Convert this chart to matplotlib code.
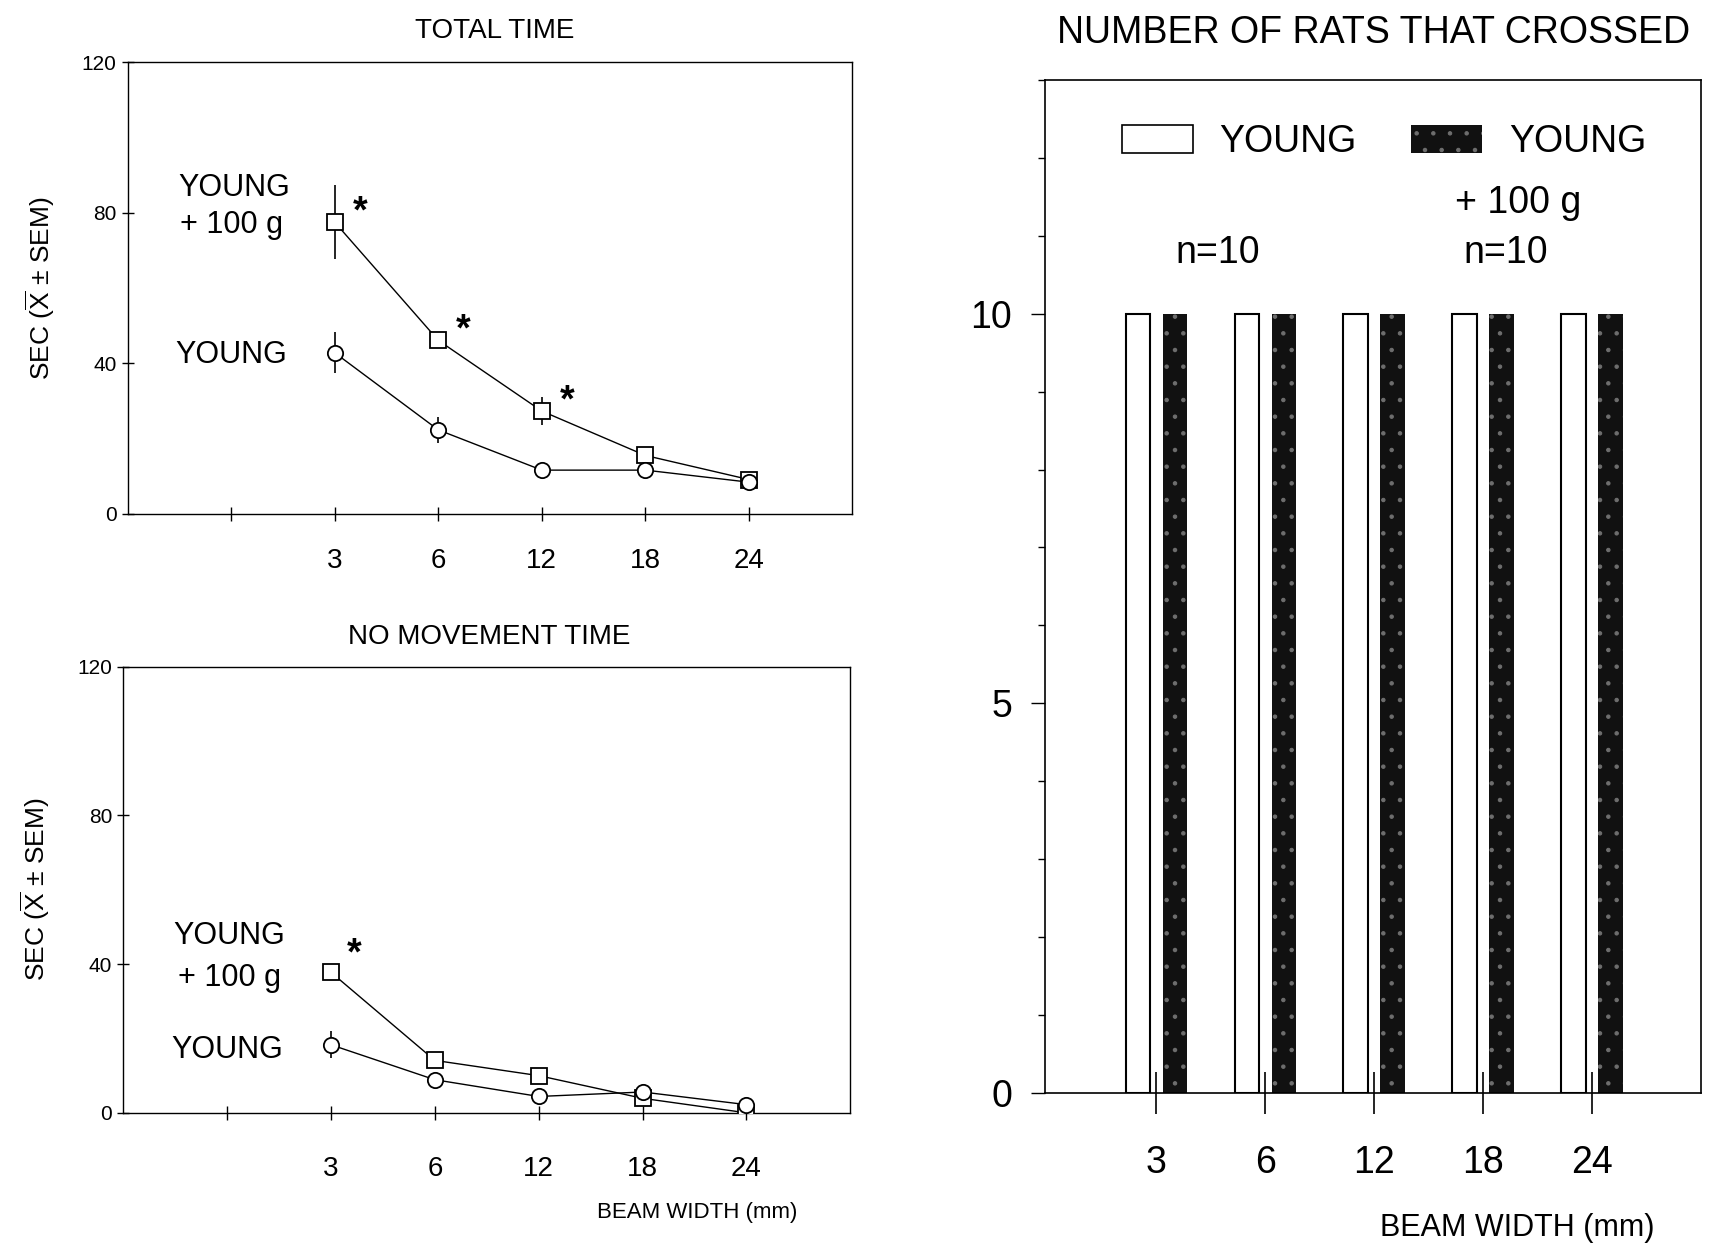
import matplotlib.pyplot as plt
from matplotlib.patches import Patch
import numpy as np

plt.rcParams['font.family'] = ['Liberation Sans', 'DejaVu Sans']
plt.rcParams['mathtext.fontset'] = 'custom'
plt.rcParams['mathtext.rm'] = 'Liberation Sans'
plt.rcParams['hatch.linewidth'] = 0.8

# beam widths (mm)
widths = ['3', '6', '12', '18', '24']

# total time, sec (mean and SEM)
total_young = [42.8, 22.3, 11.6, 11.6, 8.4]
total_young_sem = [5.5, 3.5, 1.0, 1.5, 1.5]
total_heavy = [77.5, 46.1, 27.3, 15.5, 9.1]
total_heavy_sem = [9.8, 1.0, 3.8, 2.0, 1.5]
total_sig = [True, True, True, False, False]

# no movement time, sec
still_young = [18.3, 8.9, 4.4, 5.6, 2.2]
still_young_sem = [3.6, 1.5, 1.0, 1.5, 1.0]
still_heavy = [37.8, 14.1, 10.0, 3.9, 0.0]
still_heavy_sem = [2.0, 2.0, 1.5, 2.0, 1.0]
still_sig = [True, False, False, False, False]

# number of rats that crossed
crossed_young = [10, 10, 10, 10, 10]
crossed_heavy = [10, 10, 10, 10, 10]

fig = plt.figure(figsize=(17.11, 12.47), dpi=100)
ax1 = fig.add_axes([0.0746, 0.588, 0.4236, 0.362])
ax2 = fig.add_axes([0.072, 0.1076, 0.425, 0.3578])
ax3 = fig.add_axes([0.611, 0.1234, 0.383, 0.8126])


def line_panel(ax, young, ysem, heavy, hsem, sig, star_off, xpad):
    pos = np.arange(2, 7)
    ax.errorbar(pos, heavy, yerr=hsem, fmt='none', ecolor='black',
                elinewidth=1.2, capsize=0, zorder=1)
    ax.errorbar(pos, young, yerr=ysem, fmt='none', ecolor='black',
                elinewidth=1.2, capsize=0, zorder=1)
    ax.plot(pos, heavy, color='black', lw=1, marker='s', ms=11,
            mfc='white', mec='black', mew=1.3, zorder=3)
    ax.plot(pos, young, color='black', lw=1, marker='o', ms=11,
            mfc='white', mec='black', mew=1.3, zorder=3)
    for p, v, s in zip(pos, heavy, sig):
        if s:
            ax.annotate('*', (p, v), xytext=star_off, textcoords='offset points',
                        fontsize=27, fontweight='bold', ha='center', va='center')
    ax.set_xlim(0, 7)
    ax.set_ylim(0, 120)
    ax.set_xticks(range(1, 7))
    ax.set_xticklabels([''] + widths, fontsize=20)
    ax.set_yticks([0, 40, 80, 120])
    ax.set_yticklabels(['0', '40', '80', '120'], fontsize=15)
    ax.tick_params(axis='x', direction='inout', length=10, width=1, pad=xpad)
    ax.tick_params(axis='y', direction='inout', length=8, width=1, pad=4)
    for sp in ax.spines.values():
        sp.set_linewidth(1)
    ax.set_ylabel(r'SEC ($\overline{\mathrm{X}}$ ± SEM)', fontsize=19, labelpad=18)


line_panel(ax1, total_young, total_young_sem, total_heavy, total_heavy_sem,
           total_sig, (18, 7), 20)
ax1.text(1.03, 86.5, 'YOUNG', fontsize=22, ha='center', va='center')
ax1.text(1.0, 76.8, '+ 100 g', fontsize=22, ha='center', va='center')
ax1.text(1.0, 42.3, 'YOUNG', fontsize=22, ha='center', va='center')

line_panel(ax2, still_young, still_young_sem, still_heavy, still_heavy_sem,
           still_sig, (17, 13), 26)
ax2.text(1.02, 47.6, 'YOUNG', fontsize=22, ha='center', va='center')
ax2.text(1.02, 36.2, '+ 100 g', fontsize=22, ha='center', va='center')
ax2.text(1.0, 17.0, 'YOUNG', fontsize=22, ha='center', va='center')

fig.text(0.289, 0.9755, 'TOTAL TIME', fontsize=20, ha='center', va='center')
fig.text(0.2857, 0.489, 'NO MOVEMENT TIME', fontsize=20, ha='center', va='center')
fig.text(0.4075, 0.028, 'BEAM WIDTH (mm)', fontsize=16, ha='center', va='center')

# bar panel
pos = np.arange(1, 6)
ax3.bar(pos - 0.17, crossed_young, width=0.225, color='white',
        edgecolor='black', lw=1.5)
ax3.bar(pos + 0.17, crossed_heavy, width=0.225, color='#111111',
        edgecolor='#6e6e6e', hatch='.', lw=0)
ax3.set_xlim(-0.02, 6.0)
ax3.set_ylim(0, 13)
ax3.set_xticks(pos)
ax3.set_xticklabels(widths, fontsize=27)
ax3.set_yticks([0, 5, 10])
ax3.set_yticklabels(['0', '5', '10'], fontsize=27)
ax3.set_yticks(range(0, 14), minor=True)
ax3.tick_params(axis='x', direction='inout', length=30, width=1.2, pad=22)
ax3.tick_params(axis='y', which='major', direction='out', length=10, width=1, pad=14)
ax3.tick_params(axis='y', which='minor', direction='out', length=5, width=1)
for sp in ax3.spines.values():
    sp.set_linewidth(1.2)

handles = [Patch(facecolor='white', edgecolor='black', lw=1.2),
           Patch(facecolor='#111111', edgecolor='#6e6e6e', hatch='.', lw=0)]
ax3.legend(handles, ['YOUNG', 'YOUNG'], ncol=2, loc='center left',
           bbox_to_anchor=(0.117, 0.9386), frameon=False, fontsize=27,
           handlelength=1.9, handleheight=0.75, handletextpad=0.7,
           columnspacing=1.45, borderpad=0, borderaxespad=0)
ax3.text(0.722, 0.878, '+ 100 g', transform=ax3.transAxes, fontsize=27,
         ha='center', va='center')
ax3.text(0.263, 0.829, 'n=10', transform=ax3.transAxes, fontsize=27,
         ha='center', va='center')
ax3.text(0.702, 0.829, 'n=10', transform=ax3.transAxes, fontsize=27,
         ha='center', va='center')

fig.text(0.8025, 0.9738, 'NUMBER OF RATS THAT CROSSED', fontsize=27,
         ha='center', va='center')
fig.text(0.8865, 0.0149, 'BEAM WIDTH (mm)', fontsize=22, ha='center', va='center')

fig.savefig('out.png', dpi=100)
